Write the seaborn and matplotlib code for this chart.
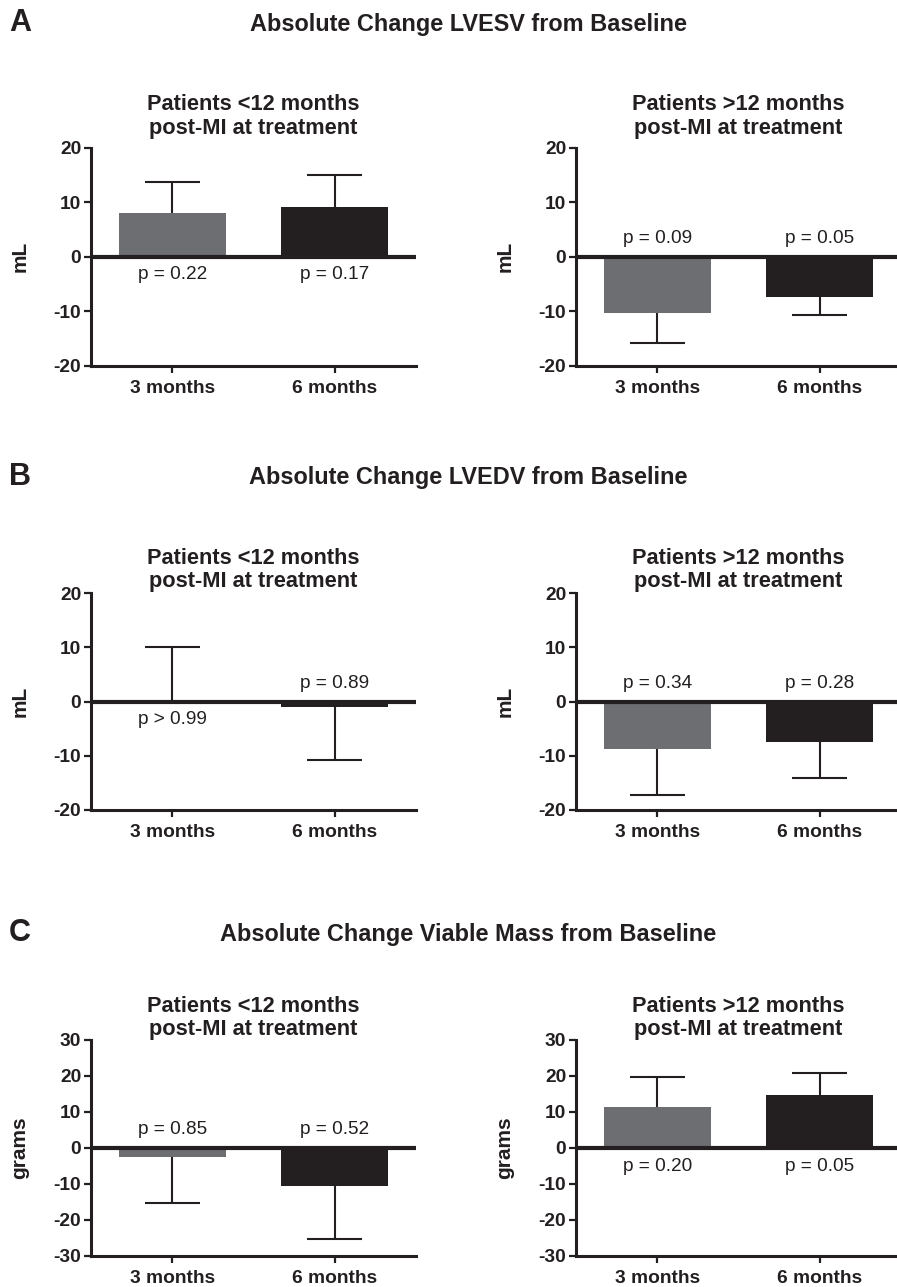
import numpy as np
import seaborn as sns
import matplotlib.pyplot as plt

sns.set_style("ticks")
plt.rcParams['font.family'] = ['Liberation Sans', 'DejaVu Sans']
plt.rcParams['axes.unicode_minus'] = False

INK = "#231F20"
GRAY = "#6D6E71"

timepoints = ["3 months", "6 months"]
groups = ["Patients <12 months\npost-MI at treatment", "Patients >12 months\npost-MI at treatment"]

# mean change and one-sided error (from bar end to cap)
lvesv_early = [8.0, 9.2]
lvesv_early_err = [5.7, 5.8]
lvesv_late = [-10.4, -7.4]
lvesv_late_err = [5.4, 3.3]
lvesv_p = [["p = 0.22", "p = 0.17"], ["p = 0.09", "p = 0.05"]]

lvedv_early = [0.1, -1.1]
lvedv_early_err = [9.9, 9.7]
lvedv_late = [-8.8, -7.5]
lvedv_late_err = [8.5, 6.6]
lvedv_p = [["p > 0.99", "p = 0.89"], ["p = 0.34", "p = 0.28"]]

mass_early = [-2.6, -10.5]
mass_early_err = [12.8, 14.8]
mass_late = [11.5, 14.8]
mass_late_err = [8.1, 5.9]
mass_p = [["p = 0.85", "p = 0.52"], ["p = 0.20", "p = 0.05"]]

# p label side: +1 above zero line, -1 below
lvesv_side = [[-1, -1], [1, 1]]
lvedv_side = [[-1, 1], [1, 1]]
mass_side = [[1, 1], [-1, -1]]

W, H = 897, 1287
fig = plt.figure(figsize=(W / 100, H / 100), dpi=100)

rows = [
    dict(letter="A", title="Absolute Change LVESV from Baseline", ylab="mL", lim=20, step=10,
         data=[(lvesv_early, lvesv_early_err), (lvesv_late, lvesv_late_err)],
         p=lvesv_p, side=lvesv_side, top=147.7, bot=365.7, head=24, pad=10),
    dict(letter="B", title="Absolute Change LVEDV from Baseline", ylab="mL", lim=20, step=10,
         data=[(lvedv_early, lvedv_early_err), (lvedv_late, lvedv_late_err)],
         p=lvedv_p, side=lvedv_side, top=593, bot=810, head=478, pad=4),
    dict(letter="C", title="Absolute Change Viable Mass from Baseline", ylab="grams", lim=30, step=10,
         data=[(mass_early, mass_early_err), (mass_late, mass_late_err)],
         p=mass_p, side=mass_side, top=1040, bot=1256, head=934, pad=3),
]

lefts = [91, 576]
axw = 325

for row in rows:
    fig.text(9 / W, 1 - (row["head"] - 1) / H, row["letter"], fontsize=22, fontweight="bold",
             color=INK, va="center", ha="left")
    fig.text(468 / W, 1 - row["head"] / H, row["title"], fontsize=16.9, fontweight="bold",
             color=INK, va="center", ha="center")
    for j, (vals, errs) in enumerate(row["data"]):
        ax = fig.add_axes([lefts[j] / W, 1 - row["bot"] / H, axw / W, (row["bot"] - row["top"]) / H])
        sns.barplot(x=timepoints, y=vals, hue=timepoints, palette=[GRAY, INK], legend=False,
                    width=0.66, saturation=1, errorbar=None, linewidth=0, ax=ax, zorder=2)
        xs = np.arange(len(vals))
        vals = np.array(vals)
        errs = np.array(errs)
        ends = np.where(vals >= 0, vals + errs, vals - errs)
        ax.vlines(xs, vals, ends, color=INK, lw=1.5, zorder=3)
        ax.hlines(ends, xs - 0.17, xs + 0.17, color=INK, lw=1.5, zorder=3)
        ax.axhline(0, color=INK, lw=3, zorder=4)
        for k in range(len(vals)):
            s = row["side"][j][k]
            ax.annotate(row["p"][j][k], (xs[k], 0), xytext=(0, 13 * s), textcoords="offset points",
                        ha="center", va="center", fontsize=13.7, color=INK)
        lim = row["lim"]
        ax.set_ylim(-lim, lim)
        ax.set_xlim(-0.5, 1.5)
        ax.set_yticks(np.arange(-lim, lim + 1, row["step"]))
        ax.set_yticklabels([str(v) for v in np.arange(-lim, lim + 1, row["step"])])
        sns.despine(ax=ax)
        for sp in ["left", "bottom"]:
            ax.spines[sp].set_linewidth(2.2)
            ax.spines[sp].set_color(INK)
        ax.tick_params(axis="both", length=5, width=1.6, color=INK, labelcolor=INK, labelsize=13.8)
        ax.tick_params(axis="y", pad=2)
        ax.tick_params(axis="x", pad=5)
        for lab in ax.get_xticklabels() + ax.get_yticklabels():
            lab.set_fontweight("bold")
        ax.set_xlabel("")
        ax.set_ylabel(row["ylab"], fontsize=15, fontweight="bold", color=INK)
        ax.yaxis.set_label_coords(-0.19, 0.5)
        ax.set_title(groups[j], fontsize=15.7, fontweight="bold", color=INK, pad=row["pad"],
                     linespacing=1.15)
        ax.set_facecolor("white")

fig.savefig("out.png", dpi=100, facecolor="white")
